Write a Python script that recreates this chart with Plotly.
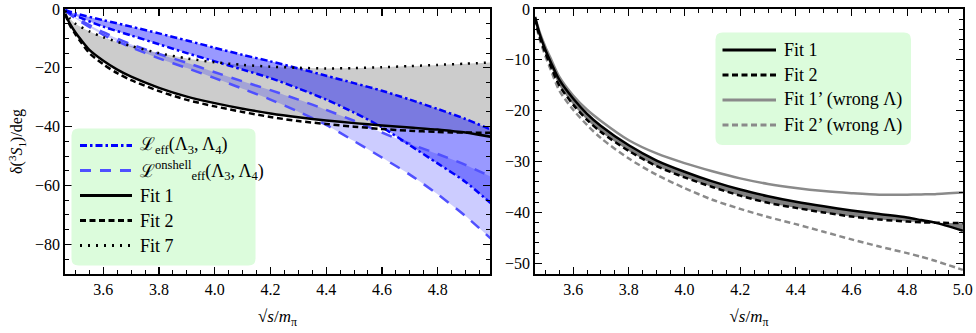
import plotly.graph_objects as go

# ---------------- data ----------------
# common x grid for the fits (sqrt(s)/m_pi)
x_fit = [3.463, 3.48, 3.50, 3.52, 3.55, 3.60, 3.65, 3.70, 3.80, 3.90, 4.00,
         4.10, 4.20, 4.30, 4.40, 4.50, 4.60, 4.70, 4.80, 4.85, 4.90, 5.00]
fit1 = [-1.6, -5.0, -8.0, -10.5, -13.9, -17.6, -20.6, -23.0, -26.8, -29.8, -32.0,
        -33.9, -35.5, -36.8, -37.9, -38.8, -39.6, -40.3, -41.0, -41.5, -42.0, -43.6]
fit2 = [-1.8, -5.5, -8.6, -11.3, -15.0, -18.8, -21.8, -24.2, -27.9, -30.9, -33.1,
        -35.0, -36.7, -38.1, -39.1, -40.0, -40.8, -41.4, -41.8, -41.95, -42.0, -42.1]
fit1p = [-1.5, -4.6, -7.4, -9.8, -13.3, -17.0, -19.8, -22.0, -25.8, -28.4, -30.3,
         -31.9, -33.3, -34.4, -35.2, -35.8, -36.2, -36.5, -36.5, -36.45, -36.4, -36.1]
fit2p = [-2.0, -6.0, -9.2, -12.0, -16.0, -19.8, -22.8, -25.4, -29.4, -32.6, -35.2,
         -37.5, -39.3, -40.9, -42.3, -43.8, -45.3, -46.7, -48.0, -48.7, -49.5, -51.3]

x_fit7 = [3.463, 3.48, 3.50, 3.55, 3.60, 3.70, 3.80, 3.90, 4.00, 4.10, 4.20,
          4.30, 4.40, 4.50, 4.60, 4.70, 4.80, 4.90, 4.99]
fit7 = [-0.5, -3.2, -5.0, -7.6, -9.6, -12.6, -15.0, -16.8, -18.1, -19.0, -19.6,
        -20.0, -20.2, -20.1, -19.8, -19.4, -19.0, -18.6, -18.2]

x_eff = [3.463, 3.50, 3.60, 3.70, 3.80, 3.90, 4.00, 4.10, 4.20, 4.30, 4.40,
         4.50, 4.60, 4.70, 4.80, 4.90, 4.99]
leff_up = [-0.3, -1.5, -3.8, -6.0, -8.3, -10.7, -13.2, -15.6, -17.8, -20.2, -22.7,
           -25.2, -27.8, -30.8, -34.0, -37.4, -41.0]
leff_lo = [-0.6, -2.3, -6.0, -9.0, -12.0, -15.0, -17.8, -20.6, -23.5, -27.0, -30.8,
           -35.2, -40.2, -46.3, -52.5, -58.8, -66.0]
onsh_up = [-0.5, -2.8, -7.9, -12.0, -15.3, -18.3, -21.5, -24.6, -27.6, -30.8, -34.3,
           -38.0, -42.0, -45.8, -49.3, -53.0, -57.0]
onsh_lo = [-0.6, -3.2, -8.8, -13.0, -16.8, -20.1, -23.5, -27.1, -30.8, -34.9, -39.4,
           -44.9, -50.5, -56.3, -63.0, -70.4, -78.0]

legend_left = ["ℒ<sub>eff</sub>(Λ<sub>3</sub>, Λ<sub>4</sub>)",
               "ℒ<sup>onshell</sup><sub>eff</sub>(Λ<sub>3</sub>, Λ<sub>4</sub>)",
               "Fit 1", "Fit 2", "Fit 7"]
legend_right = ["Fit 1", "Fit 2", "Fit 1’ (wrong Λ)", "Fit 2’ (wrong Λ)"]

# ---------------- styles ----------------
FONT = "Liberation Serif, Times New Roman, serif"
BLUE = "#0000ff"
LBLUE = "#5050ff"
GREY = "#8a8a8a"
W = 2.5
S_FIT1 = dict(color="black", width=W, dash="solid")
S_FIT2 = dict(color="black", width=W, dash="6px,3.5px")
S_FIT7 = dict(color="black", width=W, dash="2px,6px")
S_LEFF = dict(color=BLUE, width=W, dash="7px,3px,2.5px,3px")
S_ONSH = dict(color=LBLUE, width=W, dash="11px,9px")
S_FIT1P = dict(color=GREY, width=W, dash="solid")
S_FIT2P = dict(color=GREY, width=W, dash="6px,3.5px")

fig = go.Figure()

def line(x, y, style, xa="x", ya="y", fill=None, fillcolor=None, show=True):
    fig.add_trace(go.Scatter(
        x=x, y=y, mode="lines", xaxis=xa, yaxis=ya,
        line=dict(style, shape="spline", smoothing=0.8, width=style["width"] if show else 0),
        fill=fill, fillcolor=fillcolor, showlegend=False, hoverinfo="skip"))

# ---- left panel: bands ----
line(x_fit, fit1, S_FIT1, show=False)
line(x_fit7, fit7, S_FIT7, fill="tonexty", fillcolor="rgba(0,0,0,0.2)", show=False)
line(x_eff, onsh_lo, S_ONSH, show=False)
line(x_eff, onsh_up, S_ONSH, fill="tonexty", fillcolor="rgba(0,0,255,0.2)", show=False)
line(x_eff, leff_lo, S_LEFF, show=False)
line(x_eff, leff_up, S_LEFF, fill="tonexty", fillcolor="rgba(0,0,255,0.4)", show=False)
# ---- left panel: lines ----
line(x_eff, onsh_up, S_ONSH)
line(x_eff, onsh_lo, S_ONSH)
line(x_eff, leff_up, S_LEFF)
line(x_eff, leff_lo, S_LEFF)
line(x_fit7, fit7, S_FIT7)
line(x_fit, fit2, S_FIT2)
line(x_fit, fit1, S_FIT1)

# ---- right panel ----
line(x_fit, fit2, S_FIT2, "x2", "y2", show=False)
line(x_fit, fit1, S_FIT1, "x2", "y2", fill="tonexty", fillcolor="rgba(0,0,0,0.5)", show=False)
line(x_fit, fit2p, S_FIT2P, "x2", "y2")
line(x_fit, fit1p, S_FIT1P, "x2", "y2")
line(x_fit, fit2, S_FIT2, "x2", "y2")
line(x_fit, fit1, S_FIT1, "x2", "y2")

# ---------------- axes ----------------
def xax(domain, rng, anchor):
    return dict(domain=domain, range=rng, anchor=anchor, tickmode="linear", tick0=3.6,
                dtick=0.2, tickformat=".1f", ticks="inside", ticklen=7, tickwidth=1.2,
                tickcolor="black", showline=True, linewidth=1.8, linecolor="black",
                mirror="ticks", showgrid=False, zeroline=False,
                minor=dict(tickmode="linear", tick0=3.6, dtick=0.05, ticks="inside",
                           ticklen=4, tickwidth=1, tickcolor="black", showgrid=False),
                tickfont=dict(family=FONT, size=16, color="black"),
                title=dict(text="√<i>s</i>/<i>m</i><sub>π</sub>",
                           font=dict(family=FONT, size=17, color="black"), standoff=13))

def yax(anchor, rng, dtick, mdtick, title=None):
    d = dict(anchor=anchor, range=rng, tickmode="linear", tick0=0, dtick=dtick,
             ticks="inside", ticklen=7, tickwidth=1.2, tickcolor="black",
             showline=True, linewidth=1.8, linecolor="black", mirror="ticks",
             showgrid=False, zeroline=False,
             minor=dict(tickmode="linear", tick0=0, dtick=mdtick, ticks="inside",
                        ticklen=4, tickwidth=1, tickcolor="black", showgrid=False),
             tickfont=dict(family=FONT, size=16, color="black"))
    if title:
        d["title"] = dict(text=title, font=dict(family=FONT, size=16, color="black"),
                          standoff=8)
    return d

X1 = [0, 0.4733]
X2 = [0.5234, 1]
fig.update_layout(
    width=976, height=333,
    margin=dict(l=65, r=13, t=9, b=59, autoexpand=False),
    paper_bgcolor="white", plot_bgcolor="white",
    font=dict(family=FONT, size=16, color="black"),
    xaxis=xax(X1, [3.4625, 4.988], "y"),
    yaxis=yax("x", [-90.1, 0], 20, 5, "δ(<sup>3</sup><i>S</i><sub>1</sub>)/deg"),
    xaxis2=xax(X2, [3.463, 5.0005], "y2"),
    yaxis2=yax("x2", [-52.1, 0], 10, 2),
    showlegend=False,
)

# ---------------- manual legends (rounded green boxes) ----------------
PW, PH, L0, T0 = 898.0, 265.0, 65.0, 9.0
def px(xp):
    return (xp - L0) / PW
def py(yp):
    return 1 - (yp - T0) / PH

def rounded_box(x0, y0, x1, y1, r=7):
    a, b, c, d = px(x0), px(x1), py(y0), py(y1)
    rx, ry = r / PW, r / PH
    path = (f"M{a+rx},{c} L{b-rx},{c} Q{b},{c} {b},{c-ry} L{b},{d+ry} Q{b},{d} {b-rx},{d} "
            f"L{a+rx},{d} Q{a},{d} {a},{d+ry} L{a},{c-ry} Q{a},{c} {a+rx},{c} Z")
    fig.add_shape(type="path", path=path, xref="paper", yref="paper",
                  fillcolor="#dcfcdc", line=dict(width=0), layer="above")

def entry(xs0, xs1, xt, yrow, style, text):
    fig.add_shape(type="line", xref="paper", yref="paper",
                  x0=px(xs0), x1=px(xs1), y0=py(yrow), y1=py(yrow),
                  line=dict(color=style["color"], width=style["width"] + 0.3, dash=style["dash"]),
                  layer="above")
    fig.add_annotation(x=px(xt), y=py(yrow), xref="paper", yref="paper", text=text,
                       showarrow=False, xanchor="left", yanchor="middle",
                       font=dict(family=FONT, size=18, color="black"))

rounded_box(71.5, 128.5, 255.5, 265.5)
rows_l = [145.5, 170.5, 195.5, 220.5, 245.5]
styles_l = [S_LEFF, S_ONSH, S_FIT1, S_FIT2, S_FIT7]
for yr, st, tx in zip(rows_l, styles_l, legend_left):
    entry(80, 132, 138, yr, st, tx)

rounded_box(715.5, 32.5, 911, 145)
rows_r = [50, 75, 100, 125]
styles_r = [S_FIT1, S_FIT2, S_FIT1P, S_FIT2P]
for yr, st, tx in zip(rows_r, styles_r, legend_right):
    entry(722.5, 776, 782, yr, st, tx)

# remove the browser's default 8px page margin so the figure sits at (0, 0)
fig.write_html("out.html",
               config={"displayModeBar": False, "staticPlot": True},
               post_script="document.body.style.margin='0';document.body.style.overflow='hidden';")
